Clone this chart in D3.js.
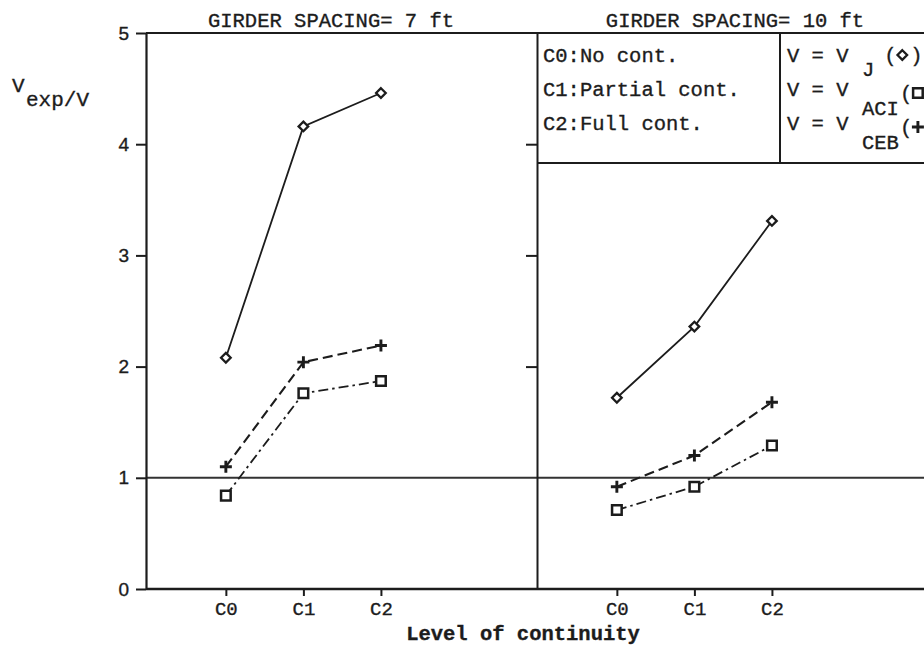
<!DOCTYPE html>
<html>
<head>
<meta charset="utf-8">
<script src="https://cdn.jsdelivr.net/npm/d3@7"></script>
<style>
  html, body { margin: 0; padding: 0; background: #fff; }
  svg { display: block; }
  text { stroke: #1c1c1c; stroke-width: 0.35px; }
</style>
</head>
<body>
<svg id="chart" width="924" height="647"></svg>
<script>
// Level-of-continuity categories shared by both panels
const categories = ["C0", "C1", "C2"];
const panelTitles = ["GIRDER SPACING= 7 ft", "GIRDER SPACING= 10 ft"];

// Vexp/V ratios, girder spacing 7 ft
const vJ7   = [2.08, 4.16, 4.46];
const vACI7 = [0.84, 1.76, 1.87];
const vCEB7 = [1.10, 2.04, 2.19];

// Vexp/V ratios, girder spacing 10 ft
const vJ10   = [1.72, 2.36, 3.31];
const vACI10 = [0.71, 0.92, 1.29];
const vCEB10 = [0.92, 1.20, 1.68];

const yTicks = [0, 1, 2, 3, 4, 5];
const referenceRatio = 1;
const continuityNotes = ["C0:No cont.", "C1:Partial cont.", "C2:Full cont."];
const formulaSubscripts = ["J", "ACI", "CEB"];

const ink = "#1c1c1c";
const mono = "'Liberation Mono', 'Courier New', monospace";
const sans = "'Liberation Sans', Arial, sans-serif";

const svg = d3.select("#chart");

const plotTop = 33, plotBottom = 589, axisX = 146, panelW = 391, rightEdge = 924;
const y = d3.scaleLinear().domain([0, 5]).range([plotBottom, plotTop]);
const x = d3.scaleLinear().domain([-1.03, 4]).range([0, 390]);
const panelLeft = [axisX, axisX + panelW];

// marker shapes
const diamond = { draw(ctx, s) { ctx.moveTo(0, -s); ctx.lineTo(s, 0); ctx.lineTo(0, s); ctx.lineTo(-s, 0); ctx.closePath(); } };
const square  = { draw(ctx, s) { ctx.rect(-s, -s, 2 * s, 2 * s); } };
const plus    = { draw(ctx, s) { ctx.moveTo(-s, 0); ctx.lineTo(s, 0); ctx.moveTo(0, -s); ctx.lineTo(0, s); } };

const seriesStyle = {
  J:   { shape: diamond, size: 4.8, dash: null,         width: 1.8, mw: 2.3 },
  ACI: { shape: square,  size: 4.8, dash: "10,4,2.5,4", width: 1.8, mw: 2.5 },
  CEB: { shape: plus,    size: 6,   dash: "10,5",       width: 2.1, mw: 2.9 }
};

const panels = [
  { title: panelTitles[0], series: [["J", vJ7], ["CEB", vCEB7], ["ACI", vACI7]] },
  { title: panelTitles[1], series: [["J", vJ10], ["CEB", vCEB10], ["ACI", vACI10]] }
];

// frame: top border, bottom axis line, reference line at ratio 1
svg.append("line").attr("x1", axisX).attr("x2", rightEdge).attr("y1", plotTop).attr("y2", plotTop)
  .attr("stroke", ink).attr("stroke-width", 2);
svg.append("line").attr("x1", axisX).attr("x2", rightEdge).attr("y1", plotBottom).attr("y2", plotBottom)
  .attr("stroke", ink).attr("stroke-width", 2.4);
svg.append("line").attr("x1", axisX).attr("x2", rightEdge)
  .attr("y1", y(referenceRatio)).attr("y2", y(referenceRatio))
  .attr("stroke", "#333").attr("stroke-width", 2);

// left value axis
const yAxis = svg.append("g").attr("transform", `translate(${axisX},0)`)
  .call(d3.axisLeft(y).tickValues(yTicks).tickFormat(d3.format("d")).tickSize(10).tickSizeOuter(0).tickPadding(7));
yAxis.select(".domain").attr("stroke", ink).attr("stroke-width", 2.2);
yAxis.selectAll(".tick line").attr("stroke", ink).attr("stroke-width", 2);
yAxis.selectAll(".tick text").attr("font-family", sans).attr("font-size", 19).attr("fill", ink);

// divider between panels with inward ticks
const divX = axisX + panelW;
const divAxis = svg.append("g").attr("transform", `translate(${divX},0)`)
  .call(d3.axisLeft(y).tickValues([2, 3, 4]).tickFormat("").tickSize(11).tickSizeOuter(0));
divAxis.select(".domain").attr("stroke", ink).attr("stroke-width", 2);
divAxis.selectAll(".tick line").attr("stroke", ink).attr("stroke-width", 2);

const line = d3.line().x((d, i) => x(i)).y(d => y(d));

panels.forEach((p, pi) => {
  const g = svg.append("g").attr("transform", `translate(${panelLeft[pi]},0)`);

  // category axis
  const xa = g.append("g").attr("transform", `translate(0,${plotBottom})`)
    .call(d3.axisBottom(x).tickValues([0, 1, 2]).tickFormat(i => categories[i]).tickSize(7).tickPadding(6));
  xa.select(".domain").remove();
  xa.selectAll(".tick line").attr("stroke", ink).attr("stroke-width", 2);
  xa.selectAll(".tick text").attr("font-family", mono).attr("font-size", 19).attr("fill", ink);

  // panel title
  svg.append("text").attr("x", panelLeft[pi] + (pi === 0 ? 185 : 198)).attr("y", 27)
    .attr("text-anchor", "middle").attr("font-family", mono).attr("font-size", 20.5)
    .attr("fill", ink).text(p.title);

  p.series.forEach(([key, vals]) => {
    const st = seriesStyle[key];
    g.append("path").datum(vals).attr("d", line).attr("fill", "none")
      .attr("stroke", ink).attr("stroke-width", st.width)
      .attr("stroke-dasharray", st.dash);
    g.selectAll(null).data(vals).join("path")
      .attr("transform", (d, i) => `translate(${x(i)},${y(d)})`)
      .attr("d", d3.symbol().type(st.shape).size(st.size))
      .attr("fill", key === "CEB" ? "none" : "#fff")
      .attr("stroke", ink).attr("stroke-width", st.mw);
  });
});

// notes box in the 10 ft panel
const boxBottom = 163, boxSplit = 780;
svg.append("line").attr("x1", divX).attr("x2", rightEdge).attr("y1", boxBottom).attr("y2", boxBottom)
  .attr("stroke", ink).attr("stroke-width", 2);
svg.append("line").attr("x1", boxSplit).attr("x2", boxSplit).attr("y1", plotTop).attr("y2", boxBottom)
  .attr("stroke", ink).attr("stroke-width", 2);

const rowBase = [62, 96, 130];
continuityNotes.forEach((t, i) => {
  svg.append("text").attr("x", 543).attr("y", rowBase[i])
    .attr("font-family", mono).attr("font-size", 20.5).attr("fill", ink).text(t);
});

// formula column: V = V with subscript, then the series marker in brackets
const legendKeys = ["J", "ACI", "CEB"];
const subDrop = [14, 19, 19];
formulaSubscripts.forEach((s, i) => {
  svg.append("text").attr("x", 787).attr("y", rowBase[i])
    .attr("font-family", mono).attr("font-size", 20.5).attr("fill", ink).text("V = V");
  const sub = svg.append("text").attr("x", 862).attr("y", rowBase[i] + subDrop[i])
    .attr("font-family", mono).attr("font-size", 20.5).attr("fill", ink).text(s);
  const subEnd = 862 + sub.node().getComputedTextLength();
  const px = i === 0 ? subEnd + 10 : subEnd + 1;
  const py = rowBase[i] + (i === 0 ? 0 : 4);
  svg.append("text").attr("x", px).attr("y", py)
    .attr("font-family", mono).attr("font-size", 20.5).attr("fill", ink).text("(");
  const st = seriesStyle[legendKeys[i]];
  svg.append("path").attr("transform", `translate(${px + 18},${py - 7})`)
    .attr("d", d3.symbol().type(st.shape).size(st.size))
    .attr("fill", "none").attr("stroke", ink).attr("stroke-width", st.mw);
  svg.append("text").attr("x", px + 26).attr("y", py)
    .attr("font-family", mono).attr("font-size", 20.5).attr("fill", ink).text(")");
});

// axis titles
const yl = svg.append("text").attr("x", 12).attr("y", 92)
  .attr("font-family", mono).attr("font-size", 21).attr("fill", ink);
yl.append("tspan").text("V");
yl.append("tspan").attr("x", 26).attr("y", 106).text("exp/V");

svg.append("text").attr("x", 523).attr("y", 640).attr("text-anchor", "middle")
  .attr("font-family", mono).attr("font-size", 20.5).attr("font-weight", "bold")
  .attr("fill", ink).text("Level of continuity");
</script>
</body>
</html>
